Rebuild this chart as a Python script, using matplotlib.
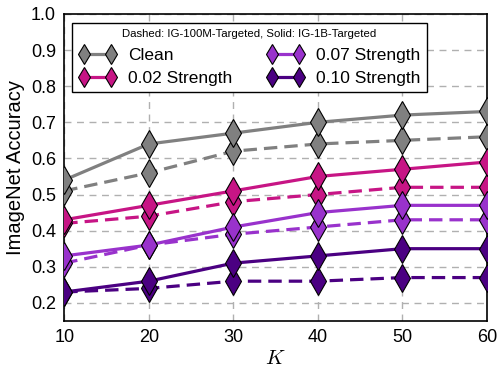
import numpy as np
import matplotlib
matplotlib.use("Agg")
import matplotlib.pyplot as plt

plt.rcParams['font.family'] = ['Liberation Sans', 'DejaVu Sans']
plt.rcParams['mathtext.fontset'] = 'cm'

k_values = [10, 20, 30, 40, 50, 60]
labels = ["Clean", "0.02 Strength", "0.07 Strength", "0.10 Strength"]
colors = ["#808080", "#c71585", "#9932cc", "#4b0082"]

# solid: IG-1B-Targeted
acc_1b = [
    [0.54, 0.64, 0.67, 0.70, 0.72, 0.73],
    [0.43, 0.47, 0.51, 0.55, 0.57, 0.59],
    [0.33, 0.36, 0.41, 0.45, 0.47, 0.47],
    [0.23, 0.26, 0.31, 0.33, 0.35, 0.35],
]
# dashed: IG-100M-Targeted
acc_100m = [
    [0.51, 0.56, 0.62, 0.64, 0.65, 0.66],
    [0.42, 0.44, 0.48, 0.50, 0.52, 0.52],
    [0.31, 0.36, 0.39, 0.41, 0.43, 0.43],
    [0.23, 0.24, 0.26, 0.26, 0.27, 0.27],
]

fig, ax = plt.subplots(figsize=(4.98, 3.68), dpi=100)
fig.subplots_adjust(left=0.129, right=0.978, top=0.962, bottom=0.128)

for i in range(len(labels)):
    ax.plot(k_values, acc_100m[i], color=colors[i], lw=2.3, ls=(0, (4.2, 2.2)),
            marker='d', ms=14, mec='black', mew=0.8, zorder=3)
    ax.plot(k_values, acc_1b[i], color=colors[i], lw=2.3, ls='-',
            marker='d', ms=14, mec='black', mew=0.8, label=labels[i], zorder=4)

ax.set_xlim(10, 60)
ax.set_ylim(0.15, 1.0)
ax.set_xticks(k_values)
ax.set_yticks(np.arange(0.2, 1.01, 0.1))
ax.set_yticklabels([f"{v:.1f}" for v in np.arange(0.2, 1.01, 0.1)])
ax.tick_params(labelsize=13, length=0, pad=6)
ax.grid(True, ls=(0, (5, 4)), color='#b0b0b0', lw=1)
ax.set_axisbelow(True)
for s in ax.spines.values():
    s.set_linewidth(1.2)

ax.set_xlabel(r"$K$", fontsize=15, labelpad=2)
ax.set_ylabel("ImageNet Accuracy", fontsize=14.5, labelpad=4)

leg = ax.legend(ncol=2, loc='upper left', bbox_to_anchor=(0.019, 0.971),
                borderaxespad=0, fontsize=12.5, numpoints=2, markerscale=0.75,
                handlelength=2.15, columnspacing=1.95, handletextpad=0.72,
                title="Dashed: IG-100M-Targeted, Solid: IG-1B-Targeted",
                title_fontsize=8.2, fancybox=False, framealpha=1,
                borderpad=0.36, labelspacing=0.48)
leg.get_frame().set_edgecolor('black')
leg.get_frame().set_linewidth(1.0)

fig.savefig("out.png", dpi=100)
